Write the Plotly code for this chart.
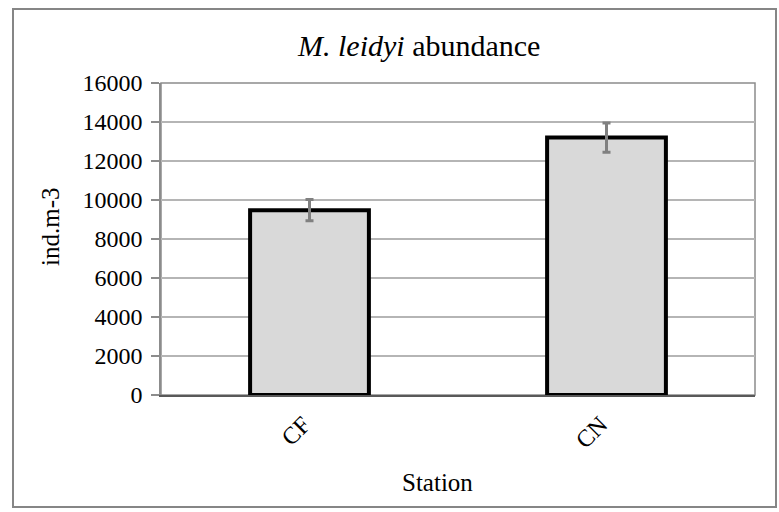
import plotly.graph_objects as go

stations = ["CF", "CN"]
abundance = [9480, 13200]
errors = [540, 750]
y_ticks = [0, 2000, 4000, 6000, 8000, 10000, 12000, 14000, 16000]
y_tick_text = [str(v) for v in y_ticks]

W, H = 779, 512
L, R, T, B = 161, 755, 83, 395
pw, ph = R - L, B - T

def px(x):
    return (x - L) / pw

def py(y):
    return (B - y) / ph

FONT = "Liberation Serif"

fig = go.Figure()
fig.add_trace(go.Bar(
    x=stations, y=abundance,
    marker=dict(color="#d9d9d9", line=dict(color="black", width=4)),
    error_y=dict(type="data", array=errors, visible=True, color="#808080", thickness=3, width=4),
    width=0.4,
))

fig.update_layout(
    width=W, height=H,
    margin=dict(l=L, r=W - R, t=T, b=H - B),
    paper_bgcolor="white", plot_bgcolor="white",
    showlegend=False,
    font=dict(family=FONT, size=24, color="black"),
    xaxis=dict(
        type="category", showgrid=False, showline=True, linecolor="#595959", linewidth=2,
        mirror=False, ticks="", tickangle=-45, tickfont=dict(family=FONT, size=24),
        range=[-0.5, 1.5], ticklabelshift=-6, ticklabelstandoff=4,
    ),
    yaxis=dict(
        range=[0, 16000], tickvals=y_ticks, ticktext=y_tick_text,
        showgrid=True, gridcolor="#b5b5b5", gridwidth=1.5,
        showline=True, linecolor="#8c8c8c", linewidth=1.5, ticks="outside", ticklen=8,
        tickcolor="#8c8c8c", tickwidth=1.5, tickfont=dict(family=FONT, size=24),
        zeroline=False, ticklabelstandoff=4,
    ),
    shapes=[
        dict(type="rect", xref="paper", yref="paper", x0=0, x1=1, y0=0, y1=1,
             line=dict(color="#8c8c8c", width=1.5), layer="below"),
        dict(type="rect", xref="paper", yref="paper", x0=px(13), x1=px(776), y0=py(9), y1=py(507),
             line=dict(color="#868686", width=2)),
    ],
    annotations=[
        dict(text="<i>M. leidyi</i> abundance", xref="paper", yref="paper", x=px(418), y=py(45),
             xanchor="center", yanchor="middle", showarrow=False, font=dict(family=FONT, size=30)),
        dict(text="ind.m-3", xref="paper", yref="paper", x=px(50), y=py(227),
             xanchor="center", yanchor="middle", textangle=-90, showarrow=False,
             font=dict(family=FONT, size=25)),
        dict(text="Station", xref="paper", yref="paper", x=px(437), y=py(483),
             xanchor="center", yanchor="middle", showarrow=False, font=dict(family=FONT, size=25)),
    ],
)

fig.write_html("out.html", config={"displayModeBar": False},
               post_script="document.body.style.margin='0';document.body.style.overflow='hidden';")
